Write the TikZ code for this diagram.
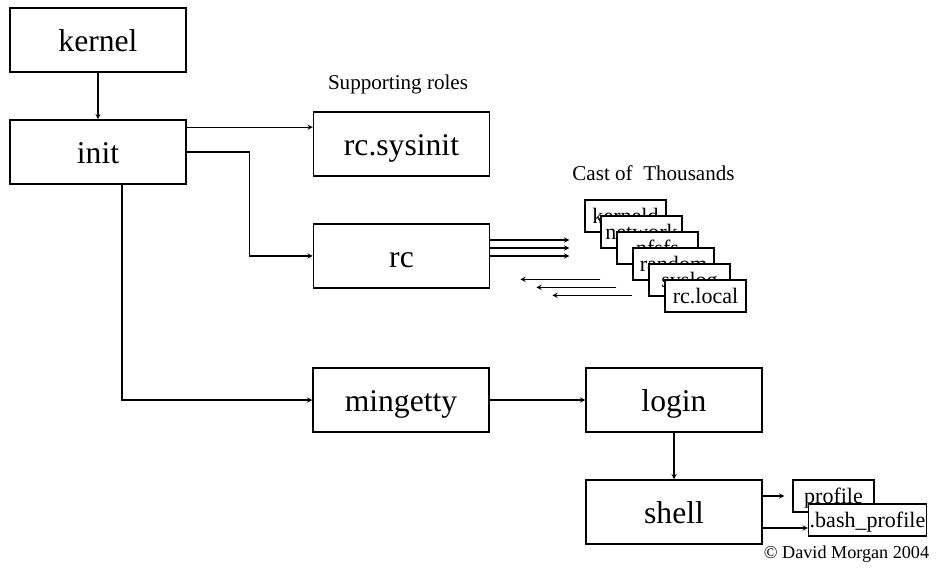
\documentclass[tikz,border=0pt]{standalone}
\usepackage{fontspec}
\setmainfont{Liberation Serif}
\usetikzlibrary{calc}
\begin{document}
\begin{tikzpicture}[x=0.03cm, y=-0.03cm,
		bigbox/.style={draw, line width=.045cm, minimum width=5.28cm, minimum height=1.92cm, inner sep=0pt, font=\fontsize{27}{30}\selectfont, text height=20pt, text depth=0pt},
		smallbox/.style={draw, fill=white, line width=.04cm, minimum width=2.43cm, minimum height=.96cm, inner sep=1pt, font=\fontsize{18.8}{20}\selectfont, text height=12.3pt, text depth=0pt},
		caption/.style={anchor=base, inner sep=0pt, font=\fontsize{18}{20}\selectfont},
		arr/.style={-stealth, line width=.035cm}]
		\useasboundingbox (0,0) rectangle (936,573);
		\node [bigbox] (kernel) at (98,40) {kernel};
		\node [bigbox] (init) at (98,152) {init};
		\node [bigbox] (rcsysinit) at (401.5,144) {rc.sysinit};
		\node [bigbox] (rc) at (401.5,256) {rc};
		\node [bigbox] (mingetty) at (401,400) {mingetty};
		\node [bigbox] (login) at (674,400) {login};
		\node [bigbox] (shell) at (674,512) {shell};
		\node [caption] (roles) at (398,90) {Supporting roles};
		\node [caption] (cast) at (653.5,181) {Cast of \ Thousands};
		\foreach \name/\txt [count=\i from 0] in {kerneld/kerneld, network/network, nfsfs/nfsfs, random/random, syslog/syslog, rclocal/rc.local}
			\node [smallbox] (\name) at (625.5+16*\i, 216+16*\i) {\txt};
		\node [smallbox] (profile) at (833.5,496) {profile};
		\node [smallbox, minimum width=3.51cm] (bash) at (867.5,520) {.bash\_profile};
		\node [caption, font=\fontsize{15.5}{18}\selectfont] (copy) at (846.5,558) {© David Morgan 2004};
		\draw [arr] (kernel) -- (init);
		\draw [arr] ($(init.north east)+(0,8)$) -- ($(rcsysinit.north west)+(0,16)$);
		\draw [arr] (init.east) -- ++(63,0) |- (rc.west);
		\draw [arr] ($(init.south)+(24,0)$) |- (mingetty.west);
		\draw [arr] (mingetty) -- (login);
		\draw [arr] (login) -- (shell);
		\foreach \dy in {0,8,16}
			\draw [arr] ($(rc.east)+(0,-\dy)$) -- ++(79,0);
		\foreach \name [count=\i from 0] in {network,nfsfs,random}
			\draw [arr] ($(\name.west |- rclocal.north)+(0,8*\i)$) -- ++(-80,0);
		\draw [arr, shorten >=.24cm] (shell.east |- profile.west) -- (profile.west);
		\draw [arr] ($(shell.east |- bash.west)+(0,8)$) -- ($(bash.west)+(0,8)$);
	\end{tikzpicture}
\end{document}
